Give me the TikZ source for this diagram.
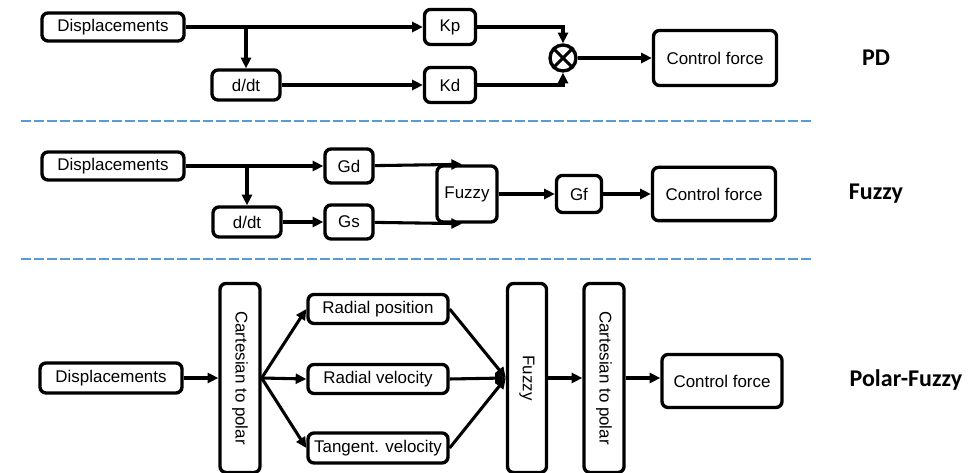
\documentclass[tikz,border=0pt]{standalone}
\usepackage{fontspec}
\setmainfont{Liberation Sans}
\newfontfamily\labelfont{Carlito}
\usetikzlibrary{arrows.meta}
\definecolor{sepblue}{RGB}{91,155,213}
\tikzset{
  blk/.style={draw, line width=2.5pt, rounded corners=4.5pt, inner sep=0pt, font=\fontsize{12.7}{15}\selectfont},
  vblk/.style={blk, minimum height=30pt, minimum width=141.75pt, rotate=-90},
  arr/.style={line width=2.3pt, -{Triangle[length=8pt,width=7.5pt]}},
  ln/.style={line width=2.3pt},
  sep/.style={sepblue, line width=2.2pt, dash pattern=on 7.5pt off 2.25pt},
  lbl/.style={font=\labelfont\bfseries\fontsize{18}{20}\selectfont}
}
\begin{document}
\begin{tikzpicture}[x=0.75pt,y=-0.75pt]
\useasboundingbox (0,0) rectangle (972,473);

% PD
\node[blk, minimum width=106.5pt, minimum height=21pt] (disp1) at (113,27) {Displacements};
\node[blk, minimum width=38.25pt, minimum height=26.25pt] (kp) at (450,27) {Kp};
\node[blk, minimum width=51pt, minimum height=22.5pt] (dd1) at (246,85) {d/dt};
\node[blk, minimum width=38.25pt, minimum height=26.25pt] (kd) at (450,85) {Kd};
\node[draw, circle, line width=2.5pt, minimum size=19.5pt, inner sep=0pt] (mul) at (563,58) {};
\node[blk, minimum width=92.25pt, minimum height=41.25pt] (cf1) at (715,58) {Control force};
\node[lbl] (pd) at (876,58) {PD};

\draw[ln] (mul.45) -- (mul.225) (mul.135) -- (mul.315);
\draw[arr] (disp1) -- (kp);
\draw[arr] (dd1.north |- disp1) -- (dd1);
\draw[arr] (dd1) -- (kd);
\draw[arr] (kp) -| (mul);
\draw[arr] (kd) -| (mul);
\draw[arr] (mul) -- (cf1);

\draw[sep] (21,121) -- (812,121);

% Fuzzy
\node[blk, minimum width=106.5pt, minimum height=21pt] (disp2) at (113,166) {Displacements};
\node[blk, minimum width=36pt, minimum height=25.5pt] (gd) at (349,166) {Gd};
\node[blk, minimum width=51pt, minimum height=22.5pt] (dd2) at (247,222) {d/dt};
\node[blk, minimum width=36pt, minimum height=25.5pt] (gs) at (349,222) {Gs};
\node[blk, minimum width=45pt, minimum height=42pt] (fz2) at (467,194) {Fuzzy};
\node[blk, minimum width=33.75pt, minimum height=27.75pt] (gf) at (579,194) {Gf};
\node[blk, minimum width=92.25pt, minimum height=40pt] (cf2) at (714,194) {Control force};
\node[lbl] (fzl) at (876,194) {Fuzzy};

\draw[arr] (disp2) -- (gd);
\draw[arr] (dd2.north |- disp2) -- (dd2);
\draw[arr] (dd2) -- (gs);
\draw[arr] (gd) -- ([xshift=-3.75pt]fz2.north);
\draw[arr] (gs) -- ([xshift=-3.75pt]fz2.south);
\draw[arr] (fz2) -- (gf);
\draw[arr] (gf) -- (cf2);

\draw[sep] (21,259) -- (812,259);

% Polar-Fuzzy
\node[blk, minimum width=106.5pt, minimum height=22.5pt] (disp3) at (111,378) {Displacements};
\node[vblk] (c2p1) at (240,378) {Cartesian to polar};
\node[blk, minimum width=105pt, minimum height=21.75pt] (rp) at (378,309) {Radial position};
\node[blk, minimum width=105pt, minimum height=21.75pt] (rv) at (378,379) {Radial velocity};
\node[blk, minimum width=105pt, minimum height=22.5pt] (tv) at (378,448) {Tangent. velocity};
\node[vblk, minimum height=29.25pt] (fz3) at (527,378) {Fuzzy};
\node[vblk] (c2p2) at (604,378) {Cartesian to polar};
\node[blk, minimum width=90pt, minimum height=39.75pt] (cf3) at (722,381) {Control force};
\node[lbl] (pfl) at (906,380) {Polar-Fuzzy};

% rotated boxes: south is the left side, north the right side
\draw[arr] (disp3) -- (disp3 -| c2p1.south);
\coordinate (fan) at (c2p1.north);
\foreach \b in {rp,rv,tv} {
  \draw[arr] (fan) -- (\b.west);
  \draw[arr] (\b.east) -- (fz3.south);
}
\draw[arr] (fz3) -- (c2p2);
\draw[arr] (c2p2) -- (c2p2 -| cf3.west);

\end{tikzpicture}
\end{document}
